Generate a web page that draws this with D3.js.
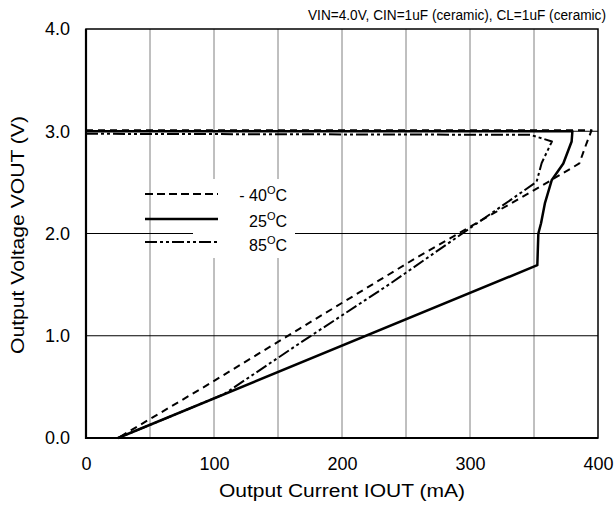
<!DOCTYPE html>
<html><head><meta charset="utf-8">
<script src="https://cdn.jsdelivr.net/npm/d3@7"></script>
<style>body{margin:0;background:#fff}text{font-family:"Liberation Sans",Arial,sans-serif;fill:#000}</style>
</head><body>
<svg id="c" width="616" height="510"></svg>
<script>
const xTicks = [0, 100, 200, 300, 400];
const yTicks = [0, 1, 2, 3, 4];
const xGrid = [50, 100, 150, 200, 250, 300, 350];
const yGrid = [1, 2, 3];
const seriesLabels = ["- 40", "25", "85"];
const titleText = "VIN=4.0V, CIN=1uF (ceramic), CL=1uF (ceramic)";

// -40 C (dashed)
const iM40 = [0, 395, 391, 385.4, 374, 355, 259, 167, 97, 25];
const vM40 = [3.01, 3.01, 2.88, 2.685, 2.6, 2.46, 1.77, 1.07, 0.535, 0];
// 25 C (solid)
const i25 = [0, 380, 379.4, 372.9, 363.8, 358.6, 355.5, 353.4, 352.6, 25];
const v25 = [3.0, 3.0, 2.9, 2.685, 2.52, 2.3, 2.1, 2.0, 1.69, 0];
// 85 C (dash-dot-dot)
const i85 = [0, 347, 364, 356, 352, 238, 168.5, 108, 60, 25];
const v85 = [2.975, 2.965, 2.9, 2.69, 2.505, 1.512, 0.94, 0.43, 0.18, 0];

const svg = d3.select("#c");
const x = d3.scaleLinear().domain([0, 400]).range([86, 598]);
const y = d3.scaleLinear().domain([0, 4]).range([438, 29]);

// grid
svg.append("g").selectAll("line").data(xGrid).join("line")
  .attr("x1", d => x(d)).attr("x2", d => x(d)).attr("y1", y(4)).attr("y2", y(0))
  .attr("stroke", "#808080").attr("stroke-width", 1);
svg.append("g").selectAll("line").data(yGrid).join("line")
  .attr("x1", x(0)).attr("x2", x(400)).attr("y1", d => y(d)).attr("y2", d => y(d))
  .attr("stroke", "#000").attr("stroke-width", 1);

// legend background
svg.append("rect").attr("x", 193).attr("y", 179).attr("width", 102).attr("height", 79).attr("fill", "#fff");

const line = d3.line().x(d => x(d[0])).y(d => y(d[1]));
const series = [
  {i: iM40, v: vM40, dash: "7,5", w: 2},
  {i: i25, v: v25, dash: null, w: 2.5},
  {i: i85, v: v85, dash: "12,3,3,3,3,3", w: 2}
];
series.forEach(s => {
  svg.append("path").datum(s.i.map((d, k) => [d, s.v[k]]))
    .attr("d", line).attr("fill", "none").attr("stroke", "#000")
    .attr("stroke-width", s.w).attr("stroke-dasharray", s.dash)
    .attr("stroke-linejoin", "round");
});

// frame
svg.append("rect").attr("x", x(0)).attr("y", y(4)).attr("width", x(400) - x(0)).attr("height", y(0) - y(4))
  .attr("fill", "none").attr("stroke", "#000").attr("stroke-width", 1.5);
svg.append("line").attr("x1", x(0)).attr("x2", x(0)).attr("y1", y(4)).attr("y2", y(0) + 1).attr("stroke", "#000").attr("stroke-width", 2.2);
svg.append("line").attr("x1", x(0) - 1).attr("x2", x(400)).attr("y1", y(0)).attr("y2", y(0)).attr("stroke", "#000").attr("stroke-width", 2.2);

// axes labels via d3 axis (no tick lines)
const xAxis = svg.append("g").attr("transform", `translate(0,${y(0)})`)
  .call(d3.axisBottom(x).tickValues(xTicks).tickSize(0).tickPadding(19).tickFormat(d3.format("d")));
xAxis.select(".domain").remove();
xAxis.selectAll("text").attr("font-size", 18).attr("font-family", "Liberation Sans, Arial, sans-serif");
const yAxis = svg.append("g").attr("transform", `translate(${x(0)},0)`)
  .call(d3.axisLeft(y).tickValues(yTicks).tickSize(0).tickPadding(16).tickFormat(d3.format(".1f")));
yAxis.select(".domain").remove();
yAxis.selectAll("text").attr("font-size", 18).attr("font-family", "Liberation Sans, Arial, sans-serif");

svg.append("text").attr("x", 342).attr("y", 497).attr("text-anchor", "middle").attr("font-size", 18)
  .attr("textLength", 246).attr("lengthAdjust", "spacingAndGlyphs")
  .text("Output Current IOUT (mA)");
svg.append("text").attr("transform", `translate(24,235) rotate(-90)`).attr("text-anchor", "middle").attr("font-size", 18)
  .attr("textLength", 238).attr("lengthAdjust", "spacingAndGlyphs")
  .text("Output Voltage VOUT (V)");
svg.append("text").attr("x", 606).attr("y", 20).attr("text-anchor", "end").attr("font-size", 14)
  .attr("textLength", 298).attr("lengthAdjust", "spacingAndGlyphs").text(titleText);

// legend
const legY = [194, 219, 242];
const legBase = [201, 227, 251];
series.forEach((s, k) => {
  svg.append("line").attr("x1", 145).attr("x2", 218).attr("y1", legY[k]).attr("y2", legY[k])
    .attr("stroke", "#000").attr("stroke-width", s.w).attr("stroke-dasharray", s.dash === "7,5" ? "8,4" : s.dash);
  const t = svg.append("text").attr("x", 287).attr("y", legBase[k]).attr("text-anchor", "end").attr("font-size", 16);
  t.append("tspan").text(seriesLabels[k]);
  t.append("tspan").attr("dy", -7).attr("font-size", 11).text("O");
  t.append("tspan").attr("dy", 7).text("C");
});
</script>
</body></html>
